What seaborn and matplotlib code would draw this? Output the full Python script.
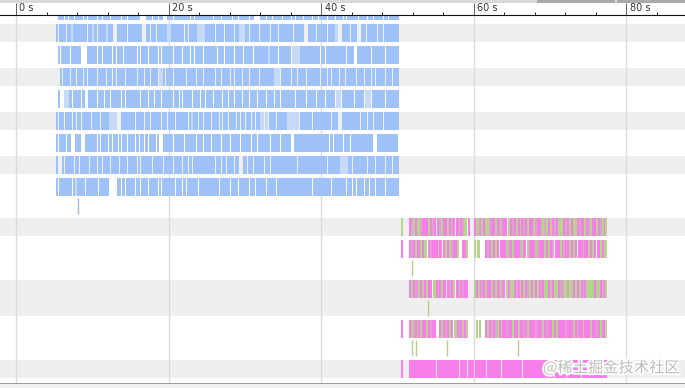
import numpy as np
import matplotlib
matplotlib.use("Agg")
import matplotlib.pyplot as plt
import matplotlib.patheffects as pe
from matplotlib.patches import Rectangle
import seaborn as sns

# ---- timeline data ----
# every character is one 0.25 s slot: '#' busy, '+' light, 'p' pink, 'g' green,
# 'm' mixed, '.' idle
SLOT = 0.25
blue_start = 5.25   # seconds
pink_start = 50.5   # seconds

blue_tracks = [
    ".###.#.##.####.#.### #.##.###.#####.##.## ####...###.##.##..## #.###.####.#.###.### ##.###.#####.##.#### #.##...###.##.####.# ###.#.###.####.##.## ##.###.###.#.#####.# ###.##.####.##.#####",
    "#.###.##+##.####.##+ #.####+###..#####.## #####..##.##.#####++ #######.#.####++++## ###.####.####.##+++# #.####.#####.###.### ####.#####..####.### ##.###++..####.###.. ##.#####.##.#.######",
    ".#.####.#####...#### #.##.####.#.###.#### ##.#.###.####.#.#### #.####.###.#.####.## ####.###.####.####.# ###.#######+####.### ###.++++##########.# #.##########.###..## #####.######.#######",
    "..#.###.##.###.#.### #.####.##.#.####.### ##.###.##.###.++#.## #.###.##.####.###.## ###.##.####.#.###.## #.####.#.#####+++.## ###.##.####.######.# ##.#.###.##.#####.## #.###.#.####.###.###",
    ".#..+++#.####.#..### #.###.##.#####.#.### ####.###.##.###.#### #.##.#.####.###.##.# ##.####.##.##.###.## #.###.####.###.##.## #####.#####.####.### #.####.++.######.### #.+++.######.#######",
    "#.##.###.#.##.####.# ###.####++++..###### #.####.##.#####.##.# ##.##.###.#+##.##.## #.###.#.##.###.#.##. ##.#.##++.+.###.#### #++++++.##.###.##### ####.###..#########. ###.##.####.########",
    "#.###.##..###..##### #.#.###.#.##.#.##.## #.#.##.#.###.#..#### #.###.#.#####.###.## #.####.####.####.### ##.##.##.###.####.## ###..############### ###.#.####.###.##### ######..###########.",
    "#..#.####.##.####.## #.##.###.####.###.## ##.#.#####.###.#.### #.####.##.#.####.### ###.##.##.###.##..## .##.#####.##.####### ######.###.######### ##.######++++##.#### ###.###.####.###.###",
    "#.######.#+####.#### ##.#####....##.#.### #.##.###.####.#.#### ##.###.#.#####.#.### #####.#####.###.#### #.##.#####.####.#### ##############.##### ####.#######.##.#.## #.##.##.####.#######",
]

pink_tracks = [
    "g...pmgpggmp ppgpmp.pmgpp gpmp.pgpmg.p ..pgmpgpggmp pgpmgpp.gpmp gpgpmpgppgmp pggmgpgpmpgg gpmpgpggpmpp gpmgppgpmgpg",
    "p...pmpgppgp g.pmpppgp.pg pgmppg..ppg. ..g.g...pmpg pgp.pppgmpgp ppmgp.gpppgm pppgpgpm.ppg pmppgpgp.ppg ppgpgp.pgpgg",
    "....pgpmpgpg pgpp.gpmpgp. pmpg.pgpmpp. ..gpgpmpgppg pgpmgp.gpggp mpgpgpmgpgpg pmpggpgpggpm pggmggpgpgpm pggggpggpmpg",
    "p...pgmpgpgp pgpmpp..pgpm pgp.gpmpgpg. ...g.g..pgpm pmgpgppmppgp pgppmpgpppmp ppgpmppgpgpp ppmpppgpmppg pppgppmpgppg",
    "p...pppppppp pppppp.ppppp pppppp.ppp.p pp.ppppp.ppp pppp.ppppppp ppp.pppp.ppp pppppppp.ppp pp.ppppppp.p pppppppppppp",
]

# short marks in the extra lane below some tracks (track index -> seconds)
lane_marks = {8: [8.1], 10: [51.9], 11: [54.0], 12: [51.9, 52.4, 56.5, 65.8]}

major_ticks = [0, 20, 40, 60, 80]
tick_labels = ["0 s", "20 s", "40 s", "60 s", "80 s"]

colors = {"#": "#9ec1f8", "+": "#c6d9f6", "p": "#f77fea",
          "g": "#b5d48c", "m": "#dca6cc"}
mark_colors = {8: "#9fb9e8", 10: "#b9cc8f", 11: "#b9cc8f", 12: "#b9cc8f"}

W, H = 685, 388
PX_PER_S = 7.63
X0 = 16
x_min, x_max = -X0 / PX_PER_S, (W - X0) / PX_PER_S

ROW, LANE, BAR_H = 22, 18, 18


def runs(start, pattern):
    # merge equal slots; a lone idle slot is drawn as a thin hairline gap
    p = "." + "".join(pattern.split()) + "."
    last = len(p) - 2          # index of the last real slot
    out = {}
    i = 1
    while i <= last:
        c = p[i]
        j = i
        while j + 1 <= last and p[j + 1] == c:
            j += 1
        if c != ".":
            a, b = float(i - 1), float(j - 1)
            if p[i - 1] == "." and i - 2 >= 1 and p[i - 2] != ".":
                a -= 0.25
            if p[j + 1] == "." and j + 2 <= last and p[j + 2] != ".":
                b += 0.25
            out.setdefault(c, []).append((start + a * SLOT, (b - a + 1) * SLOT))
        i = j + 1
    return out


tracks = [(blue_start, s) for s in blue_tracks] + [(pink_start, s) for s in pink_tracks]

sns.set_theme(style="white")
plt.rcParams["font.family"] = ["DejaVu Sans"]

fig = plt.figure(figsize=(W / 100, H / 100), dpi=100)

# window chrome
deco = fig.add_axes([0, 0, 1, 1], zorder=0)
deco.set_xlim(0, W)
deco.set_ylim(H, 0)
deco.axis("off")
deco.add_patch(Rectangle((0, 0), W, 3.3, color="#d9d9d9", lw=0))
deco.add_patch(Rectangle((537, 0), 78, 2.7, color="#a9a9a9", lw=0))
deco.add_patch(Rectangle((617, 0), 68, 2.7, color="#a9a9a9", lw=0))
deco.add_patch(Rectangle((0, 383), W, 1.3, color="#9d9d9d", lw=0))
deco.add_patch(Rectangle((0, 384.3), W, 4, color="#f0f0f0", lw=0))

# track area (y in pixels from the top)
ax = fig.add_axes([0, 5 / H, 1, 368 / H], zorder=1)
ax.set_xlim(x_min, x_max)
ax.set_ylim(383, 15)

top = 2
for k, (start, pattern) in enumerate(tracks):
    extra = LANE if k in lane_marks else 0
    if k % 2 == 1:
        ax.axhspan(top, top + ROW - 4 + extra, color="#efefef", lw=0, zorder=0.1)
    for c, segs in runs(start, pattern).items():
        ax.broken_barh(segs, (top, BAR_H), facecolors=colors[c], lw=0, zorder=1)
    if k in lane_marks:
        ax.vlines(lane_marks[k], top + BAR_H + 2, top + BAR_H + 18,
                  color=mark_colors[k], lw=1, zorder=1)
    top += ROW + extra

ax.set_xticks(major_ticks)
ax.set_yticks([])
ax.tick_params(length=0, labelbottom=False)
ax.grid(True, axis="x", color="#dcdcdc", lw=1)
ax.set_axisbelow(True)
sns.despine(ax=ax, left=True, bottom=True)

# time ruler
rax = fig.add_axes([0, (H - 15) / H, 1, 12 / H], zorder=2)
rax.set_xlim(x_min, x_max)
rax.set_ylim(0, 1)
rax.set_yticks([])
rax.set_xticks(major_ticks)
rax.set_xticks(np.arange(0, 88, 4), minor=True)
rax.tick_params(axis="x", which="major", bottom=True, direction="in",
                length=8.6, width=0.72, color="#666666", labelbottom=False)
rax.tick_params(axis="x", which="minor", bottom=True, direction="in",
                length=2.2, width=0.72, color="#222222")
for sp in ["top", "left", "right"]:
    rax.spines[sp].set_visible(False)
rax.spines["bottom"].set_color("#111111")
rax.spines["bottom"].set_linewidth(0.8)
for t, lab in zip(major_ticks, tick_labels):
    rax.text(t + 0.45, 0.58, lab, fontsize=7, color="#333333", ha="left", va="center")

fig.text(543 / W, 1 - 368 / H, "@稀土掘金技术社区", fontsize=11, color="#bdbdbd",
         family=["Noto Sans CJK SC", "DejaVu Sans"], ha="left", va="center",
         path_effects=[pe.withStroke(linewidth=2.5, foreground="white")], zorder=5)

fig.savefig("out.png", dpi=100)
